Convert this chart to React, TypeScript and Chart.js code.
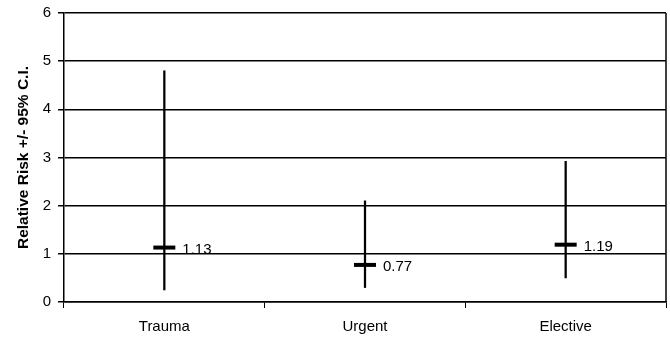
import React, { useEffect, useRef } from "react";
import { Chart, registerables } from "chart.js";

Chart.register(...registerables);

const categories = ["Trauma", "Urgent", "Elective"];
const means = [1.13, 0.77, 1.19];
const lower = [0.25, 0.3, 0.5];
const upper = [4.8, 2.1, 2.92];
const meanLabels = ["1.13", "0.77", "1.19"];

const FONT = "Arial, 'Liberation Sans', sans-serif";

const decorPlugin = {
  id: "decor",
  afterDatasetsDraw(chart: any) {
    const { ctx, chartArea, scales } = chart;
    ctx.save();
    ctx.strokeStyle = "#000";
    ctx.lineWidth = 1.5;
    ctx.beginPath();
    ctx.moveTo(chartArea.right, chartArea.top);
    ctx.lineTo(chartArea.right, chartArea.bottom);
    ctx.stroke();
    ctx.fillStyle = "#000";
    ctx.font = `15px ${FONT}`;
    ctx.textAlign = "left";
    ctx.textBaseline = "middle";
    const meta = chart.getDatasetMeta(1);
    meta.data.forEach((pt: any, i: number) => {
      ctx.fillText(meanLabels[i], pt.x + 18, scales.y.getPixelForValue(means[i]) + 2);
    });
    ctx.restore();
  },
};

export default function App() {
  const ref = useRef<HTMLCanvasElement | null>(null);
  useEffect(() => {
    document.body.style.margin = "0";
    const chart = new Chart(ref.current as HTMLCanvasElement, {
      type: "bar",
      data: {
        labels: categories,
        datasets: [
          {
            type: "bar",
            data: categories.map((_, i) => [lower[i], upper[i]]) as any,
            backgroundColor: "#000",
            borderWidth: 0,
            barThickness: 1.6,
          },
          {
            type: "line",
            data: means,
            showLine: false,
            pointStyle: "line",
            pointRadius: 11,
            pointBorderWidth: 4,
            borderColor: "#000",
            backgroundColor: "#000",
          } as any,
        ],
      },
      plugins: [decorPlugin],
      options: {
        responsive: false,
        animation: false,
        plugins: { legend: { display: false }, tooltip: { enabled: false } },
        layout: { autoPadding: false, padding: { top: 13, right: 4, left: 0, bottom: 0 } },
        scales: {
          x: {
            grid: {
              offset: true,
              drawOnChartArea: false,
              drawTicks: true,
              tickLength: 6,
              color: "#000",
              lineWidth: 1,
            },
            border: { color: "#000", width: 1.5 },
            ticks: {
              color: "#000",
              padding: 10,
              font: { family: FONT, size: 15 },
            },
            afterFit: (s: any) => {
              s.height = 37;
              s.paddingLeft = 0;
              s.paddingRight = 0;
            },
          },
          y: {
            min: 0,
            max: 6,
            ticks: {
              stepSize: 1,
              color: "#000",
              padding: 7,
              font: { family: FONT, size: 15 },
            },
            grid: { color: "#000", lineWidth: 1.5, tickLength: 6 },
            border: { color: "#000", width: 1.5 },
            title: {
              display: true,
              text: "Relative Risk +/- 95% C.I.",
              color: "#000",
              font: { family: FONT, size: 15.5, weight: "bold" },
              padding: { top: 14, bottom: 0 },
            },
            afterFit: (s: any) => {
              s.width = 64;
              s.paddingTop = 0;
              s.paddingBottom = 0;
            },
          },
        },
      },
    });
    return () => chart.destroy();
  }, []);
  return (
    <div style={{ width: 670, height: 339, background: "#fff" }}>
      <canvas ref={ref} width={670} height={339} />
    </div>
  );
}
